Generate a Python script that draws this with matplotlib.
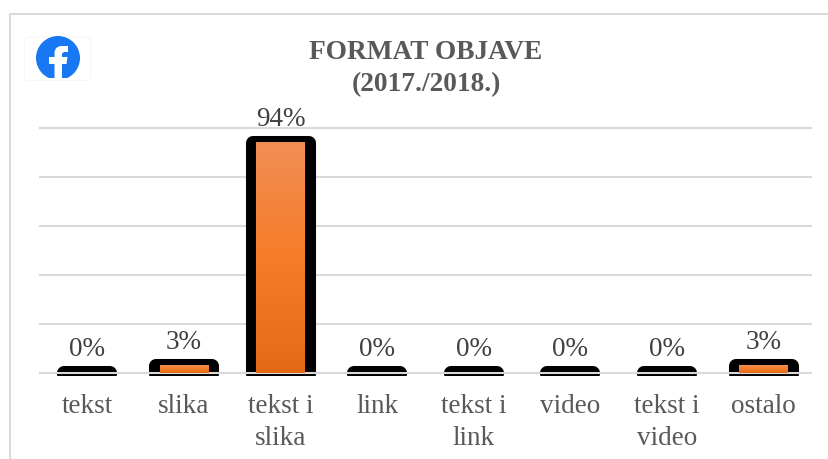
import numpy as np
import matplotlib
matplotlib.use("Agg")
import matplotlib.pyplot as plt
from matplotlib.colors import LinearSegmentedColormap
from matplotlib.patches import Circle, FancyBboxPatch, Polygon, Rectangle

categories = ["tekst", "slika", "tekst i\nslika", "link", "tekst i\nlink", "video", "tekst i\nvideo", "ostalo"]
values = [0, 3, 94, 0, 0, 0, 0, 3]
value_labels = ["0%", "3%", "94%", "0%", "0%", "0%", "0%", "3%"]
grid_ticks = [0, 20, 40, 60, 80, 100]

plt.rcParams["font.family"] = ["Liberation Serif", "DejaVu Serif"]
GREY = "#595959"
GRID = "#d9d9d9"

fig = plt.figure(figsize=(8.29, 4.59), dpi=100)

# pixel overlay for frame and logo
bg = fig.add_axes([0, 0, 1, 1], zorder=0)
bg.set_xlim(0, 829)
bg.set_ylim(459, 0)
bg.axis("off")
bg.plot([10, 10, 829], [459, 14, 14], color=GRID, lw=1.4)
bg.add_patch(FancyBboxPatch((24.5, 37), 66, 43.5, boxstyle="round,pad=0,rounding_size=3", fc="white", ec="#f5f5f5", lw=0.6))
logo = Circle((58, 58), 22, fc="#1877f2", ec="none")
bg.add_patch(logo)
logo_clip = Rectangle((30, 36), 60, 42, transform=bg.transData)
logo.set_clip_path(logo_clip)
bg.add_patch(Polygon([(54.5, 78), (54.5, 64), (49, 64), (49, 57), (54.5, 57), (54.5, 52), (56, 48), (60, 46),
                      (68, 46), (68, 52), (64, 52), (62, 53.5), (62, 57), (67.5, 57), (66.5, 64), (62, 64), (62, 78)],
                     fc="white", ec="none"))

ax = fig.add_axes([39 / 829, 1 - 375.5 / 459, 773 / 829, 249.9 / 459], zorder=1)
ax.patch.set_alpha(0)
x = np.arange(len(values))
ax.hlines(grid_ticks, -0.5, 7.5, color=GRID, lw=1.5, zorder=1)

# black outline bars, thick round stroke gives the soft corners; narrower when the value is zero
# they start a bit below zero so a 0 bar still has a height to stroke, the axes clip the rest
vals = np.array(values, dtype=float)
outline_w = np.where(vals > 0, 0.58, 0.476)
ax.bar(x, vals + 0.5, bottom=-0.5, width=outline_w, color="black", edgecolor="black", lw=10.1, joinstyle="round", zorder=2)
ax.hlines(0, -0.5, 7.5, color=GRID, lw=1.5, zorder=3)

cmap = LinearSegmentedColormap.from_list("fill", ["#f28e55", "#f57c28", "#e46a18"])
grad = np.linspace(0, 1, 256).reshape(-1, 1)
for xi, v in zip(x, values):
    if v > 0:
        ax.imshow(grad, cmap=cmap, extent=(xi - 0.252, xi + 0.252, 0, v), aspect="auto", zorder=4)
ax.set_xlim(-0.5, 7.5)
ax.set_ylim(-1, 101)

for xi, v, lab in zip(x, values, value_labels):
    ax.annotate(lab, (xi, v), xytext=(0, 8), textcoords="offset points", ha="center", va="bottom",
                fontsize=19.5, color="#404040", clip_on=False)

ax.set_xticks(x)
ax.set_xticklabels(categories, fontsize=19.5, color=GREY, linespacing=1.41)
ax.tick_params(axis="x", length=0, pad=13)
ax.set_yticks([])
for s in ax.spines.values():
    s.set_visible(False)

fig.text(426 / 829, 1 - 68.5 / 459, "FORMAT OBJAVE\n(2017./2018.)", ha="center", va="center", fontsize=19.7,
         fontweight="bold", color=GREY, linespacing=1.4)

fig.savefig("out.png", dpi=100)
